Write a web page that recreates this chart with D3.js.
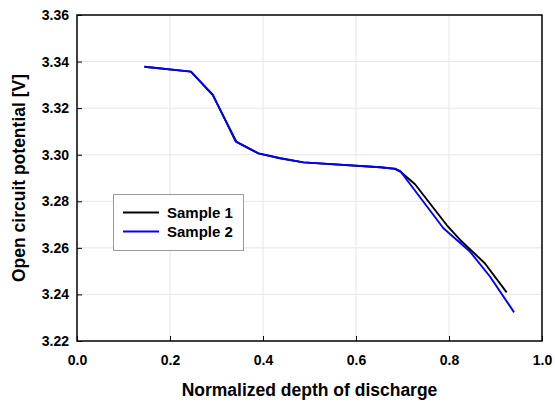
<!DOCTYPE html>
<html><head><meta charset="utf-8">
<script src="https://cdn.jsdelivr.net/npm/d3@7"></script>
<style>body{margin:0;background:#fff}svg{display:block;font-family:"Liberation Sans",Arial,sans-serif}</style>
</head><body><svg id="c" width="555" height="406"></svg>
<script>
const xTicks=[0,0.2,0.4,0.6,0.8,1.0];
const yTicks=[3.22,3.24,3.26,3.28,3.30,3.32,3.34,3.36];
const seriesNames=["Sample 1","Sample 2"];
const seriesColors=["#000000","#0000ff"];
const s1x=[0.145,0.245,0.292,0.343,0.39,0.437,0.487,0.652,0.684,0.697,0.727,0.795,0.824,0.877,0.924];
const s1y=[3.3378,3.3357,3.3256,3.3055,3.3006,3.2985,3.2967,3.2946,3.2939,3.2925,3.2873,3.2698,3.2634,3.2534,3.2409];
const s2x=[0.145,0.245,0.292,0.341,0.39,0.437,0.487,0.652,0.684,0.695,0.788,0.845,0.888,0.940];
const s2y=[3.3378,3.3357,3.3258,3.3057,3.3006,3.2985,3.2967,3.2946,3.2940,3.2930,3.2684,3.2584,3.2477,3.2323];

const svg=d3.select("#c");
const L=77,R=542,T=15,B=341;
const x=d3.scaleLinear().domain([0,1]).range([L,R]);
const y=d3.scaleLinear().domain([3.22,3.36]).range([B,T]);
// grid
svg.append("g").selectAll("line").data(xTicks.slice(1,-1)).join("line")
 .attr("x1",d=>x(d)).attr("x2",d=>x(d)).attr("y1",T).attr("y2",B).attr("stroke","#e6e6e6").attr("stroke-width",1);
svg.append("g").selectAll("line").data(yTicks.slice(1,-1)).join("line")
 .attr("y1",d=>y(d)).attr("y2",d=>y(d)).attr("x1",L).attr("x2",R).attr("stroke","#e6e6e6").attr("stroke-width",1);
// axes
const xa=svg.append("g").attr("transform",`translate(0,${B})`)
 .call(d3.axisBottom(x).tickValues(xTicks).tickFormat(d3.format(".1f")).tickSizeInner(-5).tickSizeOuter(0).tickPadding(14));
const ya=svg.append("g").attr("transform",`translate(${L},0)`)
 .call(d3.axisLeft(y).tickValues(yTicks).tickFormat(d3.format(".2f")).tickSizeInner(-5).tickSizeOuter(0).tickPadding(8));
[xa,ya].forEach(a=>{a.select(".domain").remove();a.selectAll("line").attr("stroke","#000");
 a.selectAll("text").attr("font-size",14).attr("font-weight","bold").attr("fill","#000").attr("font-family","Liberation Sans, Arial, sans-serif");});
// lines
const line=d3.line().x(d=>x(d[0])).y(d=>y(d[1]));
const data=[d3.zip(s1x,s1y),d3.zip(s2x,s2y)];
data.forEach((d,i)=>svg.append("path").datum(d).attr("d",line).attr("fill","none")
 .attr("stroke",seriesColors[i]).attr("stroke-width",1.9).attr("stroke-linejoin","round"));
// frame
svg.append("rect").attr("x",L).attr("y",T).attr("width",R-L).attr("height",B-T).attr("fill","none").attr("stroke","#000").attr("stroke-width",1.5);
// legend
const lg=svg.append("g");
lg.append("rect").attr("x",113.5).attr("y",194.5).attr("width",130).attr("height",56).attr("fill","#fff").attr("stroke","#999").attr("stroke-width",1);
seriesNames.forEach((n,i)=>{
 const yy=212.5+i*19;
 lg.append("line").attr("x1",123).attr("x2",159).attr("y1",yy).attr("y2",yy).attr("stroke",seriesColors[i]).attr("stroke-width",1.8);
 lg.append("text").attr("x",167).attr("y",yy).attr("dy","0.35em").attr("font-size",15).attr("font-weight","bold").text(n);
});
// titles
svg.append("text").attr("x",(L+R)/2).attr("y",390).attr("dy","0.35em").attr("text-anchor","middle").attr("font-size",17.5).attr("font-weight","bold").text("Normalized depth of discharge");
svg.append("text").attr("transform",`translate(19,${(T+B)/2}) rotate(-90)`).attr("dy","0.35em").attr("text-anchor","middle").attr("font-size",17.5).attr("font-weight","bold").text("Open circuit potential [V]");
</script></body></html>
